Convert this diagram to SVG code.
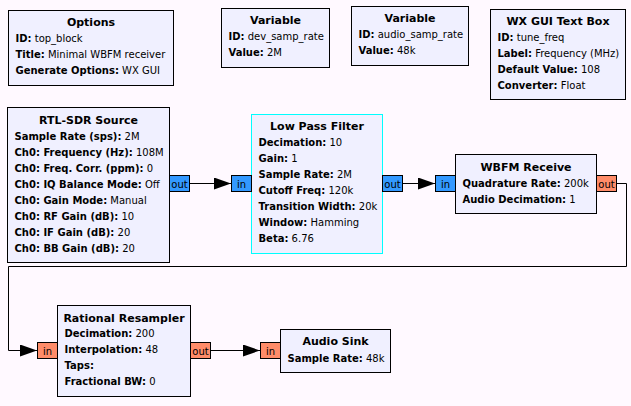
<svg xmlns="http://www.w3.org/2000/svg" width="631" height="406" viewBox="0 0 631 406">
<style>
text{font-family:"DejaVu Sans","Liberation Sans",sans-serif;fill:#000}
.blk{fill:#F0F0FF;stroke:#000;stroke-width:1}
.sel{stroke:#00FFFF}
.ttl{font-size:11px;font-weight:bold;text-anchor:middle}
.p{font-size:10px}
.p tspan.k{font-weight:bold}
.pin{fill:#3399FF;stroke:#000;stroke-width:1}
.por{fill:#FF8C69;stroke:#000;stroke-width:1}
.pt{font-size:10px;text-anchor:middle}
.wire{fill:none;stroke:#000;stroke-width:1}
</style>
<defs>
<marker id="ah" markerUnits="userSpaceOnUse" markerWidth="18" markerHeight="14" refX="17" refY="6" orient="auto">
<path d="M0,0 L17,6 L0,12 z" fill="#000"/>
</marker>
</defs>
<rect width="631" height="406" fill="#FFF9FF"/>

<g id="connectors">
<path class="wire" d="M189.5,183.5 H231" marker-end="url(#ah)"/>
<path class="wire" d="M402.5,183.5 H435" marker-end="url(#ah)"/>
<path class="wire" d="M616.5,183.5 H626.5 V266.5 H8.5 V350.5 H37" marker-end="url(#ah)"/>
<path class="wire" d="M210.5,350.5 H260" marker-end="url(#ah)"/>
</g>

<g id="options">
<rect class="blk" x="8.5" y="10.5" width="165" height="75"/>
<text class="ttl" x="91" y="26">Options</text>
<text class="p" x="15.5" y="42"><tspan class="k">ID:</tspan> top_block</text>
<text class="p" x="15.5" y="58"><tspan class="k">Title:</tspan> Minimal WBFM receiver</text>
<text class="p" x="15.5" y="74"><tspan class="k">Generate Options:</tspan> WX GUI</text>
</g>

<g id="variable_dev_samp_rate">
<rect class="blk" x="221.5" y="8.5" width="108" height="59"/>
<text class="ttl" x="275.5" y="24">Variable</text>
<text class="p" x="228.5" y="40"><tspan class="k">ID:</tspan> dev_samp_rate</text>
<text class="p" x="228.5" y="56"><tspan class="k">Value:</tspan> 2M</text>
</g>

<g id="variable_audio_samp_rate">
<rect class="blk" x="351.5" y="6.5" width="117" height="59"/>
<text class="ttl" x="410" y="22">Variable</text>
<text class="p" x="358.5" y="38"><tspan class="k">ID:</tspan> audio_samp_rate</text>
<text class="p" x="358.5" y="54"><tspan class="k">Value:</tspan> 48k</text>
</g>

<g id="wx_gui_text_box">
<rect class="blk" x="490.5" y="9.5" width="135" height="90"/>
<text class="ttl" x="558" y="25">WX GUI Text Box</text>
<text class="p" x="497.5" y="41"><tspan class="k">ID:</tspan> tune_freq</text>
<text class="p" x="497.5" y="57"><tspan class="k">Label:</tspan> Frequency (MHz)</text>
<text class="p" x="497.5" y="73"><tspan class="k">Default Value:</tspan> 108</text>
<text class="p" x="497.5" y="89"><tspan class="k">Converter:</tspan> Float</text>
</g>

<g id="rtlsdr_source">
<rect class="blk" x="7.5" y="107.5" width="162" height="155"/>
<text class="ttl" x="88.5" y="124">RTL-SDR Source</text>
<text class="p" x="14.5" y="140"><tspan class="k">Sample Rate (sps):</tspan> 2M</text>
<text class="p" x="14.5" y="156"><tspan class="k">Ch0: Frequency (Hz):</tspan> 108M</text>
<text class="p" x="14.5" y="172"><tspan class="k">Ch0: Freq. Corr. (ppm):</tspan> 0</text>
<text class="p" x="14.5" y="188"><tspan class="k">Ch0: IQ Balance Mode:</tspan> Off</text>
<text class="p" x="14.5" y="204"><tspan class="k">Ch0: Gain Mode:</tspan> Manual</text>
<text class="p" x="14.5" y="220"><tspan class="k">Ch0: RF Gain (dB):</tspan> 10</text>
<text class="p" x="14.5" y="236"><tspan class="k">Ch0: IF Gain (dB):</tspan> 20</text>
<text class="p" x="14.5" y="252"><tspan class="k">Ch0: BB Gain (dB):</tspan> 20</text>
<rect class="pin" x="169.5" y="175.5" width="20" height="16"/>
<text class="pt" x="179.5" y="187.5">out</text>
</g>

<g id="low_pass_filter">
<rect class="blk sel" x="251.5" y="114.5" width="131" height="139"/>
<text class="ttl" x="317" y="130">Low Pass Filter</text>
<text class="p" x="258.5" y="146"><tspan class="k">Decimation:</tspan> 10</text>
<text class="p" x="258.5" y="162"><tspan class="k">Gain:</tspan> 1</text>
<text class="p" x="258.5" y="178"><tspan class="k">Sample Rate:</tspan> 2M</text>
<text class="p" x="258.5" y="194"><tspan class="k">Cutoff Freq:</tspan> 120k</text>
<text class="p" x="258.5" y="210"><tspan class="k">Transition Width:</tspan> 20k</text>
<text class="p" x="258.5" y="226"><tspan class="k">Window:</tspan> Hamming</text>
<text class="p" x="258.5" y="242"><tspan class="k">Beta:</tspan> 6.76</text>
<rect class="pin sel" x="231.5" y="175.5" width="20" height="16"/>
<text class="pt" x="241.5" y="187.5">in</text>
<rect class="pin sel" x="382.5" y="175.5" width="20" height="16"/>
<text class="pt" x="392.5" y="187.5">out</text>
</g>

<g id="wbfm_receive">
<rect class="blk" x="455.5" y="154.5" width="141" height="59"/>
<text class="ttl" x="526" y="171">WBFM Receive</text>
<text class="p" x="462.5" y="187"><tspan class="k">Quadrature Rate:</tspan> 200k</text>
<text class="p" x="462.5" y="203"><tspan class="k">Audio Decimation:</tspan> 1</text>
<rect class="pin" x="435.5" y="175.5" width="20" height="16"/>
<text class="pt" x="445.5" y="187.5">in</text>
<rect class="por" x="596.5" y="175.5" width="20" height="16"/>
<text class="pt" x="606.5" y="187.5">out</text>
</g>

<g id="rational_resampler">
<rect class="blk" x="57.5" y="305.5" width="133" height="91"/>
<text class="ttl" x="124" y="322">Rational Resampler</text>
<text class="p" x="64.5" y="337"><tspan class="k">Decimation:</tspan> 200</text>
<text class="p" x="64.5" y="353"><tspan class="k">Interpolation:</tspan> 48</text>
<text class="p" x="64.5" y="369"><tspan class="k">Taps:</tspan></text>
<text class="p" x="64.5" y="385"><tspan class="k">Fractional BW:</tspan> 0</text>
<rect class="por" x="37.5" y="342.5" width="20" height="16"/>
<text class="pt" x="47.5" y="354.5">in</text>
<rect class="por" x="190.5" y="342.5" width="20" height="16"/>
<text class="pt" x="200.5" y="354.5">out</text>
</g>

<g id="audio_sink">
<rect class="blk" x="280.5" y="329.5" width="110" height="43"/>
<text class="ttl" x="335.5" y="345">Audio Sink</text>
<text class="p" x="287.5" y="361.5"><tspan class="k">Sample Rate:</tspan> 48k</text>
<rect class="por" x="260.5" y="342.5" width="20" height="16"/>
<text class="pt" x="270.5" y="354.5">in</text>
</g>
</svg>
